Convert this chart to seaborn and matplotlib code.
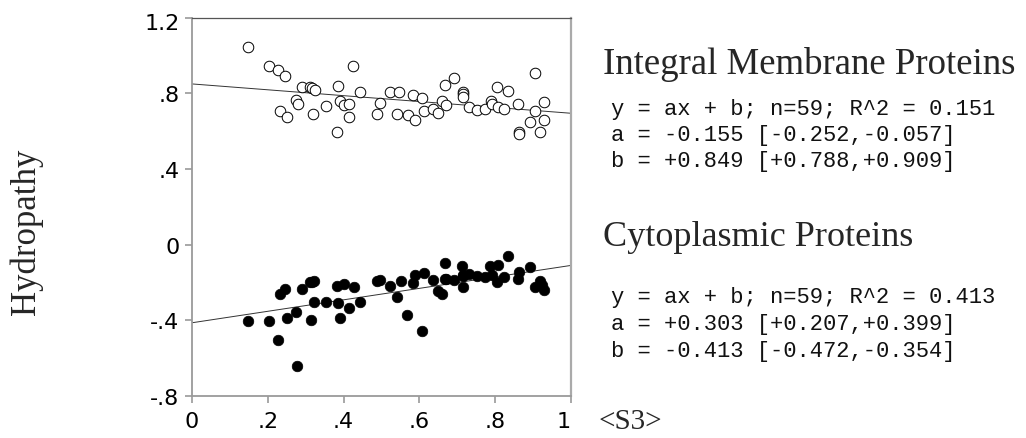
import matplotlib
matplotlib.use("Agg")
import matplotlib.pyplot as plt
from matplotlib.transforms import ScaledTranslation
import numpy as np
import pandas as pd
import seaborn as sns

# --- Integral membrane proteins (open circles) ---
imp_x = [0.149, 0.203, 0.228, 0.246, 0.426, 0.290, 0.312, 0.316, 0.325, 0.384,
         0.444, 0.523, 0.545, 0.274, 0.279, 0.232, 0.250, 0.320, 0.354, 0.391,
         0.400, 0.413, 0.413, 0.382, 0.496, 0.488, 0.540, 0.582, 0.607, 0.569,
         0.589, 0.612, 0.637, 0.648, 0.659, 0.670, 0.668, 0.690, 0.715, 0.716,
         0.716, 0.730, 0.752, 0.774, 0.789, 0.791, 0.804, 0.808, 0.824, 0.833,
         0.860, 0.863, 0.863, 0.891, 0.904, 0.905, 0.928, 0.930, 0.917]
imp_y = [1.043, 0.942, 0.924, 0.893, 0.942, 0.834, 0.831, 0.826, 0.819, 0.836,
         0.805, 0.808, 0.805, 0.766, 0.745, 0.708, 0.674, 0.688, 0.734, 0.761,
         0.738, 0.743, 0.673, 0.597, 0.748, 0.688, 0.690, 0.792, 0.773, 0.685,
         0.658, 0.704, 0.717, 0.694, 0.757, 0.739, 0.845, 0.880, 0.808, 0.796,
         0.782, 0.725, 0.711, 0.717, 0.760, 0.743, 0.834, 0.725, 0.717, 0.813,
         0.743, 0.597, 0.584, 0.650, 0.708, 0.905, 0.752, 0.658, 0.597]

# --- Cytoplasmic proteins (filled circles) ---
cyt_x = [0.149, 0.203, 0.228, 0.232, 0.246, 0.250, 0.274, 0.278, 0.290, 0.312,
         0.322, 0.313, 0.322, 0.354, 0.382, 0.401, 0.384, 0.391, 0.413, 0.428,
         0.444, 0.488, 0.496, 0.523, 0.540, 0.551, 0.582, 0.589, 0.611, 0.567,
         0.607, 0.637, 0.648, 0.659, 0.668, 0.668, 0.690, 0.712, 0.716, 0.716,
         0.731, 0.752, 0.774, 0.787, 0.791, 0.804, 0.808, 0.824, 0.835, 0.860,
         0.863, 0.891, 0.904, 0.917, 0.923, 0.930, 0.316, 0.715, 0.670]
cyt_y = [-0.402, -0.402, -0.504, -0.261, -0.235, -0.388, -0.358, -0.643, -0.235, -0.199,
         -0.191, -0.397, -0.305, -0.305, -0.217, -0.208, -0.310, -0.388, -0.335, -0.222,
         -0.305, -0.194, -0.187, -0.217, -0.279, -0.194, -0.205, -0.161, -0.150, -0.372,
         -0.455, -0.187, -0.244, -0.261, -0.097, -0.182, -0.185, -0.115, -0.161, -0.222,
         -0.155, -0.164, -0.173, -0.111, -0.161, -0.199, -0.108, -0.173, -0.062, -0.182,
         -0.146, -0.120, -0.222, -0.194, -0.213, -0.238, -0.200, -0.165, -0.180]

# Least-squares fit summaries (slope a, intercept b)
imp_a, imp_b = -0.155, 0.849
cyt_a, cyt_b = 0.303, -0.413

x_ticks = [0, 0.2, 0.4, 0.6, 0.8, 1.0]
x_labels = ["0", ".2", ".4", ".6", ".8", "1"]
y_ticks = [1.2, 0.8, 0.4, 0.0, -0.4, -0.8]
y_labels = ["1.2", ".8", ".4", "0", "-.4", "-.8"]

sns.set_style("white")
plt.rcParams["font.family"] = ["DejaVu Sans"]

fig = plt.figure(figsize=(10.26, 4.39), dpi=100)
ax = fig.add_axes([192 / 1026, 1 - 397 / 439, 379 / 1026, 378.5 / 439])

imp = pd.DataFrame({"x": imp_x, "y": imp_y})
cyt = pd.DataFrame({"x": cyt_x, "y": cyt_y})

xs = np.array([0.0, 1.0])
fit = pd.DataFrame({
    "x": np.concatenate([xs, xs]),
    "y": np.concatenate([imp_a * xs + imp_b, cyt_a * xs + cyt_b]),
    "group": ["imp", "imp", "cyt", "cyt"],
})
sns.lineplot(data=fit, x="x", y="y", units="group", estimator=None,
             color="#333333", linewidth=0.7, ax=ax, zorder=1)

sns.scatterplot(data=imp, x="x", y="y", ax=ax, s=58, marker="o",
                facecolor="white", edgecolor="black", linewidth=0.7, zorder=2)
sns.scatterplot(data=cyt, x="x", y="y", ax=ax, s=58, marker="o",
                color="black", edgecolor="black", linewidth=0.5, zorder=3)

ax.set_xlim(0, 1)
ax.set_ylim(-0.8, 1.2)
ax.set_xticks(x_ticks)
ax.set_xticklabels(x_labels)
ax.set_yticks(y_ticks)
ax.set_yticklabels(y_labels)
ax.set_xlabel("")
ax.set_ylabel("")
ax.tick_params(axis="both", which="major", direction="out", length=5, width=1.2,
               color="#999999", labelsize=16, labelcolor="black",
               bottom=True, left=True)
ax.tick_params(axis="x", pad=6)
ax.tick_params(axis="y", pad=4)

# keep the end labels inside the frame edges
ax.get_xticklabels()[-1].set_horizontalalignment("right")
top_lbl = ax.get_yticklabels()[0]
top_lbl.set_transform(top_lbl.get_transform() +
                      ScaledTranslation(0, -3 / 100, fig.dpi_scale_trans))

for side, col, lw in [("left", "#9a9a9a", 1.3), ("bottom", "#9a9a9a", 1.3),
                      ("right", "#aaaaaa", 1.6), ("top", "#555555", 0.9)]:
    ax.spines[side].set_visible(True)
    ax.spines[side].set_color(col)
    ax.spines[side].set_linewidth(lw)

serif = ["Liberation Serif", "DejaVu Serif"]
mono = ["Liberation Mono", "DejaVu Sans Mono"]

def fx(px):
    return px / 1026

def fy(py):
    return 1 - py / 439

fig.text(fx(26), fy(232), "Hydropathy", family=serif, fontsize=25,
         rotation=90, ha="center", va="center")

fig.text(fx(603), fy(73.5), "Integral Membrane Proteins", family=serif,
         fontsize=26.5, ha="left", va="baseline")
imp_lines = ["y = ax + b; n=59; R^2 = 0.151",
             "a = -0.155 [-0.252,-0.057]",
             "b = +0.849 [+0.788,+0.909]"]
for i, line in enumerate(imp_lines):
    fig.text(fx(611), fy(115 + 26 * i), line, family=mono, fontsize=15.9,
             ha="left", va="baseline", color="#111111")

fig.text(fx(603), fy(246), "Cytoplasmic Proteins", family=serif,
         fontsize=26, ha="left", va="baseline")
cyt_lines = ["y = ax + b; n=59; R^2 = 0.413",
             "a = +0.303 [+0.207,+0.399]",
             "b = -0.413 [-0.472,-0.354]"]
for i, line in enumerate(cyt_lines):
    fig.text(fx(611), fy(303 + 27 * i), line, family=mono, fontsize=15.9,
             ha="left", va="baseline", color="#111111")

fig.text(fx(598), fy(429), "<S3>", family=serif, fontsize=21,
         ha="left", va="baseline")

fig.savefig("out.png", dpi=100, facecolor="white")
